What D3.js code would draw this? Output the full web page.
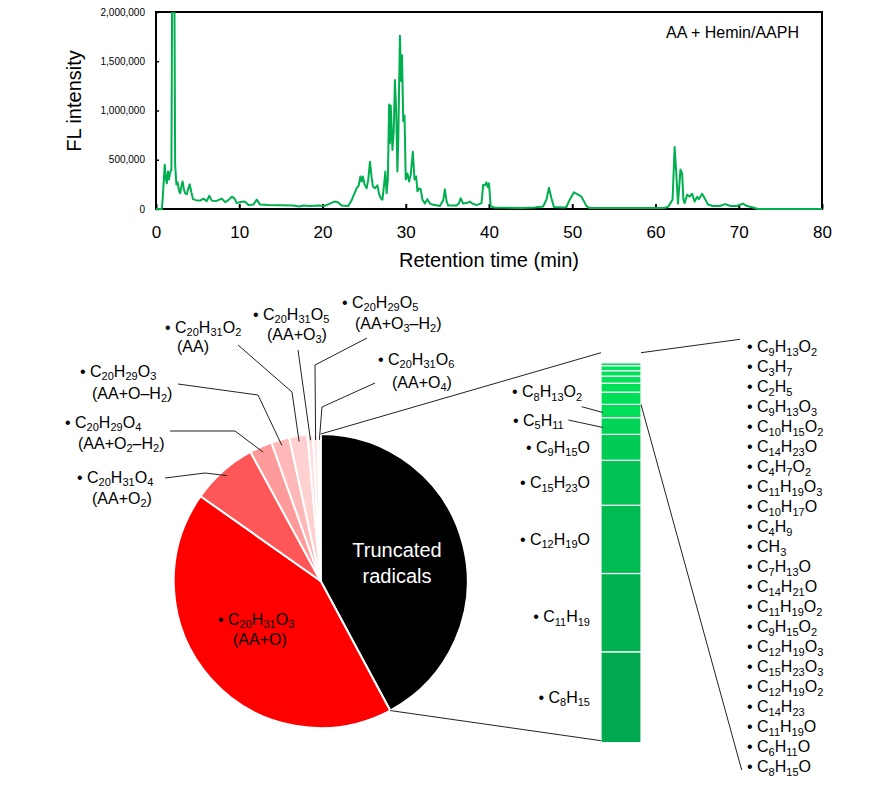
<!DOCTYPE html>
<html><head><meta charset="utf-8">
<script src="https://cdn.jsdelivr.net/npm/d3@7"></script>
<style>
body{margin:0;background:#fff}
text{font-family:Arial,"Liberation Sans",sans-serif;fill:#000}
</style>
</head><body>
<svg id="c" width="880" height="795"></svg>
<script>
// ---------- DATA ----------
const times = [0,0.7,0.8,0.9,1.05,1.2,1.3,1.45,1.55,1.7,1.85,1.95,2.05,2.2,2.3,2.45,2.6,2.75,2.9,3.05,3.2,3.35,3.5,3.7,3.85,4.05,4.25,4.45,4.8,5.3,5.7,6.1,6.4,6.7,7.2,7.9,8.3,8.7,9.1,9.4,9.7,10.1,10.7,11.1,11.7,12.1,12.5,13.5,15,16.5,17.2,17.7,18.5,19.5,20.2,20.9,21.4,21.8,22.3,23.1,23.5,23.8,24.1,24.35,24.55,24.7,24.85,25.05,25.3,25.5,25.7,25.9,26.05,26.3,26.6,26.8,27.0,27.2,27.4,27.55,27.7,27.85,28.0,28.1,28.2,28.4,28.55,28.7,28.85,29.0,29.1,29.3,29.45,29.55,29.7,29.85,30.0,30.2,30.4,30.6,30.85,31.05,31.25,31.4,31.6,31.8,32.0,32.3,32.6,32.9,33.2,34.1,34.5,34.7,34.9,35.1,36.1,36.4,36.6,36.9,37.3,37.7,38.0,38.5,39.1,39.3,39.5,39.7,39.85,40.0,40.2,40.6,44,45.5,46.5,46.9,47.2,47.5,47.8,49.0,49.3,49.7,50.2,50.7,51.1,51.4,51.7,52.1,61.0,61.5,62.05,62.3,62.5,62.7,63.0,63.2,63.35,63.5,63.8,64.1,64.4,64.7,65.0,65.2,65.6,66.0,66.3,66.9,67.7,68.4,69.0,69.8,70.5,71.0,71.7,72.3,80];
const intensities = [0,0,100000,240000,450000,300000,260000,380000,300000,370000,400000,2400000,2600000,2400000,450000,250000,270000,190000,160000,230000,280000,200000,160000,150000,200000,250000,170000,100000,90000,85000,105000,80000,135000,85000,80000,105000,70000,90000,125000,110000,60000,70000,75000,40000,45000,95000,45000,40000,38000,35000,25000,35000,30000,35000,30000,55000,75000,70000,35000,30000,90000,150000,210000,240000,330000,280000,330000,250000,210000,300000,480000,320000,230000,210000,240000,150000,110000,95000,250000,380000,160000,300000,1060000,670000,1050000,600000,780000,1310000,1000000,380000,700000,1760000,1300000,1560000,890000,950000,300000,360000,280000,350000,580000,300000,330000,180000,210000,200000,95000,55000,100000,55000,45000,30000,90000,200000,80000,35000,35000,60000,110000,55000,60000,75000,55000,40000,60000,245000,240000,270000,220000,260000,30000,15000,10000,15000,25000,95000,215000,110000,20000,15000,20000,95000,170000,145000,125000,80000,30000,10000,10000,20000,95000,630000,360000,55000,400000,360000,95000,60000,145000,125000,155000,75000,125000,100000,155000,95000,45000,30000,30000,50000,30000,30000,55000,30000,15000,0,0];
const xTickValues = [0,10,20,30,40,50,60,70,80];
const yTickValues = [0,500000,1000000,1500000,2000000];
const chromTitle = "AA + Hemin/AAPH";
const xTitle = "Retention time (min)";
const yTitle = "FL intensity";

// pie (percent of total); first slice = truncated radicals (sum of bar)
const pieLabels = ["C20H31O3","C20H31O4","C20H29O4","C20H29O3","C20H31O2","C20H31O5","C20H29O5","C20H31O6"];
const pieNotes  = ["(AA+O)","(AA+O2)","(AA+O2–H2)","(AA+O–H2)","(AA)","(AA+O3)","(AA+O3–H2)","(AA+O4)"];
const pieValues = [42.7,7.3,2.5,2.0,2.0,0.6,0.55,0.3];
const truncatedLabel = ["Truncated","radicals"];

// bar of truncated radicals (bottom to top), percent of total
const barLabels = ["C8H15","C11H19","C12H19O","C15H23O","C9H15O","C5H11","C8H13O2",
  "C8H15O","C6H11O","C11H19O","C14H23","C12H19O2","C15H23O3","C12H19O3","C9H15O2","C11H19O2","C14H21O","C7H13O","CH3","C4H9","C10H17O","C11H19O3","C4H7O2","C14H23O","C10H15O2","C9H13O3","C2H5","C3H7","C9H13O2"];
const barValues = [9.95,8.57,7.47,4.92,2.84,1.83,1.45,
  1.34,0.98,0.77,0.60,0.55,0.33,0.13,0.11,0.09,0.07,0.05,0.04,0.03,0.03,0.02,0.02,0.01,0.01,0.01,0.01,0.01,0.01];
const nLabelledInBar = 7;

// ---------- STYLE / LAYOUT ----------
const svg = d3.select("#c");
const green = "#00b050";
function formula(sel, str, sub) {
  const parts = str.match(/\d+|[^\d]+/g);
  let down = false;
  parts.forEach(p => {
    const isNum = /^\d+$/.test(p);
    const t = sel.append("tspan").text(p);
    if (isNum) { t.attr("font-size", sub); if (!down) { t.attr("dy", 3.5); down = true; } }
    else if (down) { t.attr("dy", -3.5); down = false; }
  });
}

// ---------- TOP CHART ----------
const PX0 = 156, PX1 = 822, PY0 = 209, PY1 = 12;
const x = d3.scaleLinear().domain([0,80]).range([PX0,PX1]);
const y = d3.scaleLinear().domain([0,2000000]).range([PY0,PY1]);

svg.append("defs").append("clipPath").attr("id","clip")
  .append("rect").attr("x",PX0).attr("y",PY1).attr("width",PX1-PX0).attr("height",PY0-PY1+3);

const gx = svg.append("g").attr("transform",`translate(0,${PY0})`)
  .call(d3.axisBottom(x).tickValues(xTickValues).tickSize(-5).tickPadding(17).tickFormat(d3.format("d")));
gx.select(".domain").remove();
gx.selectAll("line").attr("stroke","#000").attr("stroke-width",2);
gx.selectAll("text").attr("font-size",17).attr("font-family","Arial, 'Liberation Sans', sans-serif");

const gy = svg.append("g").attr("transform",`translate(${PX0},0)`)
  .call(d3.axisLeft(y).tickValues(yTickValues).tickSize(-3).tickPadding(11).tickFormat(d3.format(",")));
gy.select(".domain").remove();
gy.selectAll("line").attr("stroke","#000").attr("stroke-width",1.5);
gy.selectAll("text").attr("font-size",10).attr("font-family","Arial, 'Liberation Sans', sans-serif");

svg.append("rect").attr("x",PX0).attr("y",PY1).attr("width",PX1-PX0).attr("height",PY0-PY1)
  .attr("fill","none").attr("stroke","#000").attr("stroke-width",2);

const chrom = times.map((t,i)=>[t,intensities[i]]);
svg.append("path").datum(chrom).attr("clip-path","url(#clip)")
  .attr("fill","none").attr("stroke",green).attr("stroke-width",2).attr("stroke-linejoin","round")
  .attr("d", d3.line().x(d=>x(d[0])).y(d=>y(d[1])));

svg.append("text").attr("x",799).attr("y",38).attr("text-anchor","end").attr("font-size",16).text(chromTitle);
svg.append("text").attr("x",(PX0+PX1)/2).attr("y",267).attr("text-anchor","middle").attr("font-size",20).text(xTitle);
svg.append("text").attr("transform",`translate(81,101) rotate(-90)`).attr("text-anchor","middle").attr("font-size",20).text(yTitle);

// ---------- PIE ----------
const cx = 320.7, cy = 581, R = 147;
const truncatedTotal = d3.sum(barValues);
const allPie = [truncatedTotal, ...pieValues];
const pieColors = ["#000000","#ff0000","#ff5757","#ff9a9a","#ffb8b8","#ffd0d0","#ffdede","#ffe8e8","#fff0f0"];
const arcs = d3.pie().sort(null).value(d=>d)(allPie);
const arc = d3.arc().innerRadius(0).outerRadius(R);
const gp = svg.append("g").attr("transform",`translate(${cx},${cy})`);
gp.selectAll("path").data(arcs).join("path").attr("d",arc)
  .attr("fill",(d,i)=>pieColors[i]).attr("stroke","#fff").attr("stroke-width",2).attr("stroke-linejoin","round");
const pt = (a, r) => [cx + r*Math.sin(a), cy - r*Math.cos(a)];

// truncated label
truncatedLabel.forEach((s,i)=>{
  svg.append("text").attr("x",397).attr("y",557+i*25.5).attr("text-anchor","middle")
    .attr("font-size",20).style("fill","#fff").text(s);
});

// label layout: [line1 x, line1 centre y, line2 x, line2 centre y]
const labelPos = [[218,619,233,639],[77,477,92,498],[65,422,78,443],[80,371,92,393],[165,327,177,346],[253,314,267,334],[342,302,355,323],[378,359,392,382]];
const leaderElbows = [null,[[165,478],[205,473]],[[170,431],[235,431]],[[178,384],[258,395]],[[238,345],[292,392]],[[298,350]],[[367,338],[315,365]],[[375,383],[322,407]]];
pieLabels.forEach((lab,i)=>{
  const p = labelPos[i];
  const t1 = svg.append("text").attr("x",p[0]).attr("y",p[1]+5.5).attr("font-size",16);
  formula(t1, "• "+lab, 11);
  const t2 = svg.append("text").attr("x",p[2]).attr("y",p[3]+5.5).attr("font-size",16);
  formula(t2, pieNotes[i], 11);
  if (leaderElbows[i]) {
    const a = arcs[i+1];
    const end = pt((a.startAngle+a.endAngle)/2, R*0.96);
    svg.append("path").attr("d", d3.line()([...leaderElbows[i], end]))
      .attr("fill","none").attr("stroke","#222").attr("stroke-width",1);
  }
});

// ---------- BAR ----------
const BX0 = 601, BX1 = 641, BY0 = 742.7, BY1 = 356.7;
const yb = d3.scaleLinear().domain([0,truncatedTotal]).range([BY0,BY1]);
const cum = d3.cumsum(barValues);
const segs = barValues.map((v,i)=>({label:barLabels[i], y0: i? cum[i-1]:0, y1: cum[i], i}));
const gcol = d3.scaleLinear().domain([0,6,barValues.length-1]).range(["#00a84f","#00dd57","#00f462"]);
svg.append("g").selectAll("rect").data(segs).join("rect")
  .attr("x",BX0).attr("width",BX1-BX0)
  .attr("y",d=>yb(d.y1)).attr("height",d=>yb(d.y0)-yb(d.y1))
  .attr("fill",d=>gcol(d.i)).attr("stroke","#fff").attr("stroke-width",1.2);

// connection lines pie -> bar
const topPt = pt(0, R), botPt = pt(arcs[0].endAngle, R);
svg.append("line").attr("x1",topPt[0]).attr("y1",topPt[1]).attr("x2",BX0).attr("y2",BY1-4).attr("stroke","#222").attr("stroke-width",1);
svg.append("line").attr("x1",botPt[0]).attr("y1",botPt[1]).attr("x2",BX0).attr("y2",BY0-2).attr("stroke","#222").attr("stroke-width",1);

// left labels of bar
segs.slice(0,nLabelledInBar).forEach(d=>{
  const mid = (yb(d.y0)+yb(d.y1))/2;
  if (d.i < 5) {
    const t = svg.append("text").attr("x",590).attr("y",mid+5.5+(d.i===1?4:0)).attr("text-anchor","end").attr("font-size",16);
    formula(t, "• "+d.label, 11);
  }
});
const leaderLabels = [[6,512,391.7,[581.7,406.7]],[5,513,420,[568.3,420]]];
leaderLabels.forEach(([i,lx,ly,st])=>{
  const d = segs[i];
  const mid = (yb(d.y0)+yb(d.y1))/2;
  const t = svg.append("text").attr("x",lx).attr("y",ly+5.5).attr("font-size",16);
  formula(t, "• "+d.label, 11);
  svg.append("line").attr("x1",st[0]).attr("y1",st[1]).attr("x2",BX0+2).attr("y2",mid+1.5)
    .attr("stroke","#222").attr("stroke-width",1);
});

// right list
const listItems = barLabels.slice(nLabelledInBar).reverse();
const LX = 747, LY0 = 346.7, LDY = 20;
listItems.forEach((lab,k)=>{
  const t = svg.append("text").attr("x",LX).attr("y",LY0+k*LDY+5.5).attr("font-size",16);
  formula(t, "• "+lab, 11);
});
const groupBottom = yb(cum[nLabelledInBar-1]);
svg.append("line").attr("x1",BX1).attr("y1",BY1-4).attr("x2",740).attr("y2",339.3).attr("stroke","#222").attr("stroke-width",1);
svg.append("line").attr("x1",BX1).attr("y1",groupBottom).attr("x2",741.7).attr("y2",770).attr("stroke","#222").attr("stroke-width",1);
</script>
</body></html>
